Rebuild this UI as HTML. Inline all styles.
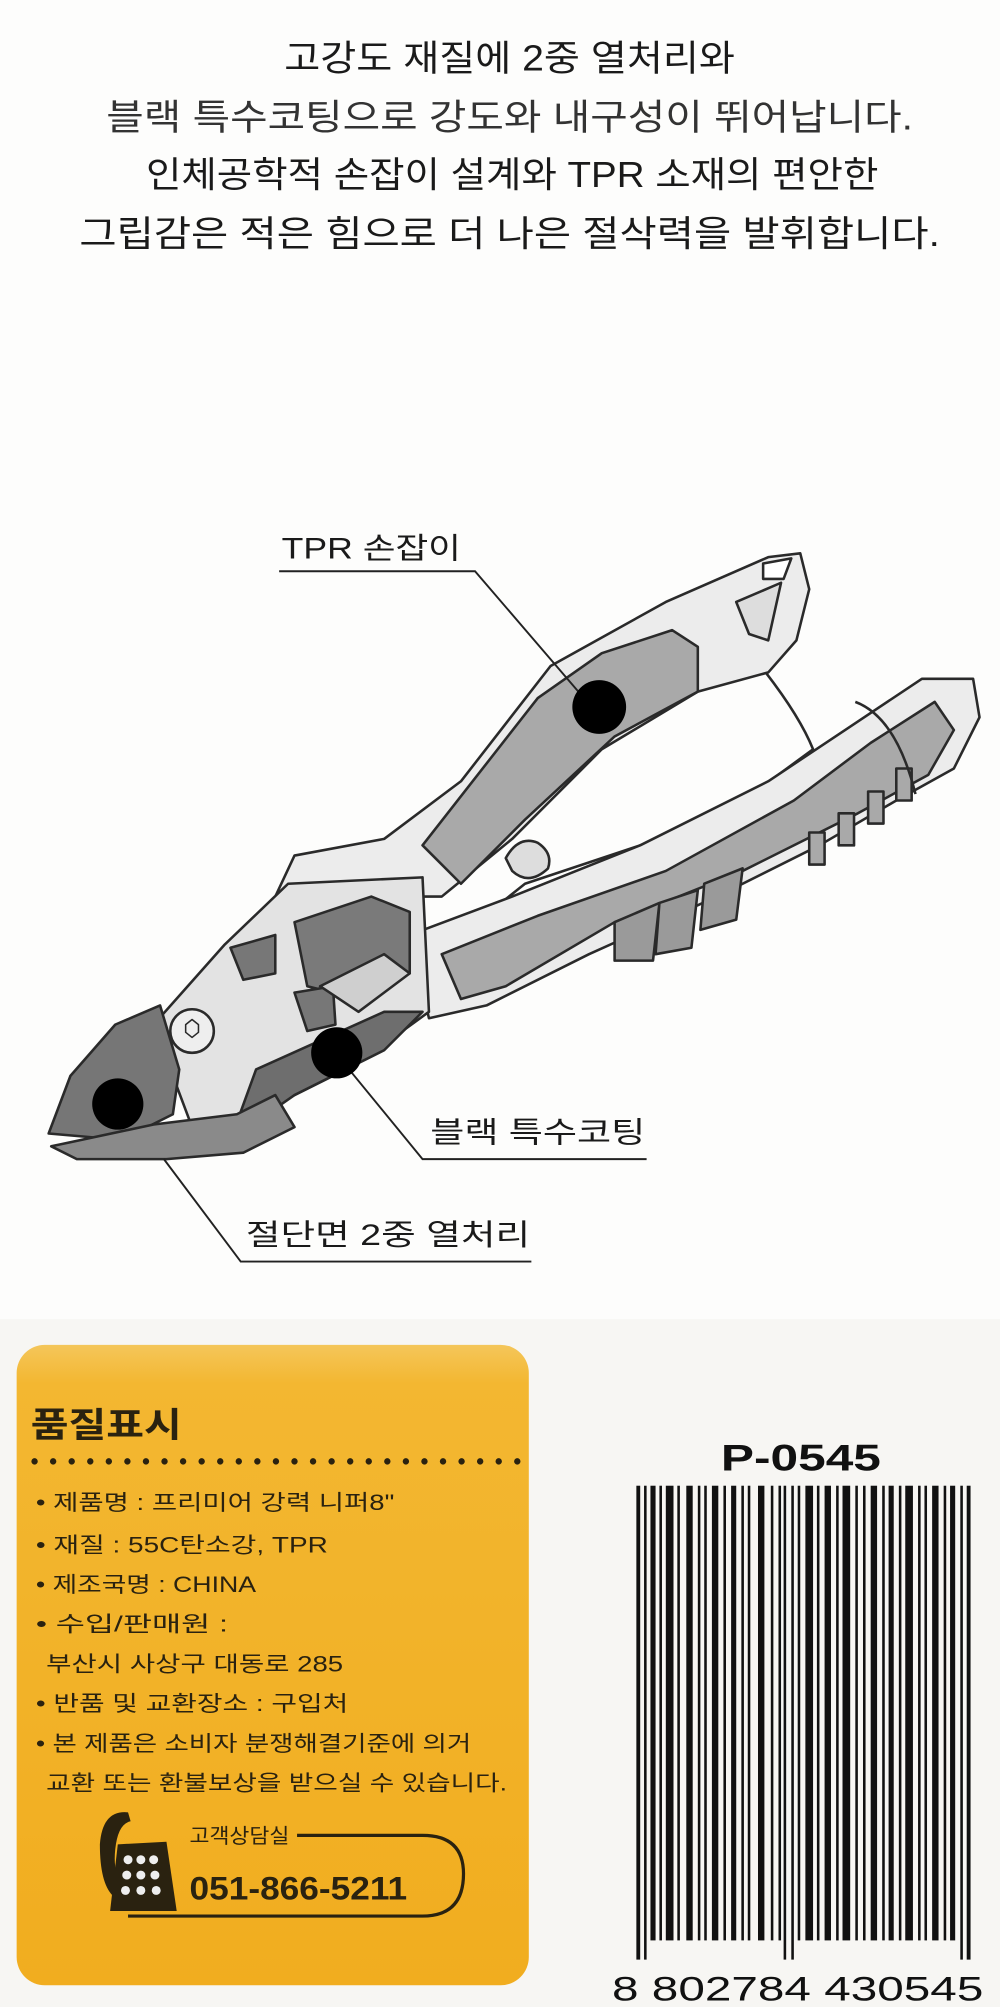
<!DOCTYPE html>
<html><head><meta charset="utf-8"><style>
html,body{margin:0;padding:0;background:#fdfdfc;}
svg{display:block;}
text{font-family:"Liberation Sans","Noto Sans CJK KR",sans-serif;}
</style></head><body>
<svg width="1000" height="2007" viewBox="0 0 781 1567" preserveAspectRatio="none" xmlns="http://www.w3.org/2000/svg">
<rect width="781" height="1567" fill="#fdfdfc"/>
<rect x="0" y="1030" width="781" height="537" fill="#f7f6f3"/>
<g fill="#1a1a1a" font-size="28" text-anchor="middle">
<text x="398" y="55" textLength="352" lengthAdjust="spacingAndGlyphs">고강도 재질에 2중 열처리와</text>
<text x="398" y="101" textLength="630" lengthAdjust="spacingAndGlyphs" fill="#333">블랙 특수코팅으로 강도와 내구성이 뛰어납니다.</text>
<text x="400" y="146" textLength="572" lengthAdjust="spacingAndGlyphs">인체공학적 손잡이 설계와 TPR 소재의 편안한</text>
<text x="398" y="192" textLength="672" lengthAdjust="spacingAndGlyphs">그립감은 적은 힘으로 더 나은 절삭력을 발휘합니다.</text>
</g>
<!-- pliers -->
<g stroke="#2a2a2a" stroke-width="2" stroke-linejoin="round">
<path d="M215 700 L230 668 L300 655 L360 610 L430 520 L520 470 L600 435 L625 432 L632 460 L622 500 L600 525 L545 540 L470 585 L400 655 L345 700 Z" fill="#ececec"/>
<path d="M330 660 L420 545 L470 510 L525 492 L545 505 L545 540 L480 575 L410 640 L360 690 Z" fill="#a9a9a9"/>
<path d="M575 470 L610 455 L600 500 L585 495 Z" fill="#ddd"/>
<path d="M596 440 L618 436 L612 452 L596 452 Z" fill="#fff"/>
<path d="M598 525 Q625 560 635 585 L560 640 L410 690 L360 730" fill="none" stroke-width="2"/>
<path d="M395 670 q10 -18 25 -12 q12 8 8 20 q-15 14 -28 2 z" fill="#ddd"/>
<path d="M320 730 L400 700 L500 660 L600 610 L660 570 L720 530 L760 530 L765 560 L745 600 L700 625 L640 660 L560 700 L460 745 L380 785 L335 795 Z" fill="#ececec"/>
<path d="M345 745 L420 715 L520 680 L620 625 L680 580 L730 548 L745 570 L725 605 L670 635 L580 680 L480 720 L395 770 L360 780 Z" fill="#a9a9a9"/>
<path d="M480 720 l35 -15 l-5 45 l-30 0 z M515 705 l30 -10 l-5 45 l-28 5 z M550 690 l30 -12 l-5 40 l-28 8 z" fill="#9a9a9a"/>
<path d="M632 650 h12 v25 h-12 z M655 635 h12 v25 h-12 z M678 618 h12 v25 h-12 z M700 600 h12 v25 h-12 z" fill="#a9a9a9"/>
<path d="M668 548 Q700 560 715 620" fill="none"/>
<path d="M120 800 L175 738 L225 690 L330 685 L335 790 L280 830 L210 865 L150 880 Z" fill="#e3e3e3"/>
<path d="M230 720 L290 700 L320 712 L320 760 L280 780 L240 770 Z" fill="#7a7a7a"/>
<path d="M180 740 L215 730 L215 760 L190 765 Z M230 775 L260 770 L262 800 L240 805 Z" fill="#777"/>
<path d="M250 770 L300 745 L320 760 L280 790 Z" fill="#cfcfcf"/>
<circle cx="150" cy="805" r="17" fill="#eee"/>
<path d="M145 800 l5 -4 l5 4 l0 6 l-5 4 l-5 -4 z" fill="none" stroke-width="1.2"/>
<path d="M200 835 L300 790 L330 790 L300 820 L230 855 L180 890 Z" fill="#6e6e6e"/>
<path d="M38 885 L55 840 L90 800 L125 785 L140 835 L135 870 L95 890 Z" fill="#767676"/>
<path d="M40 895 L120 878 L185 870 L215 855 L230 880 L190 900 L130 905 L60 905 Z" fill="#8a8a8a"/>
</g>
<g stroke="#222" stroke-width="1.5" fill="none">
<polyline points="218,446 371,446 462,552"/>
<polyline points="505,905 330,905 262,822"/>
<polyline points="415,985 188,985 128,905"/>
</g>
<g fill="#000">
<circle cx="468" cy="552" r="21"/>
<circle cx="263" cy="822" r="20"/>
<circle cx="92" cy="862" r="20"/>
</g>
<g fill="#1a1a1a" font-size="23">
<text x="220" y="436" textLength="140" lengthAdjust="spacingAndGlyphs">TPR 손잡이</text>
<text x="336" y="892" textLength="168" lengthAdjust="spacingAndGlyphs">블랙 특수코팅</text>
<text x="192" y="972" textLength="222" lengthAdjust="spacingAndGlyphs">절단면 2중 열처리</text>
</g>
<defs><linearGradient id="yg" x1="0" y1="0" x2="0" y2="1">
<stop offset="0" stop-color="#f4c65a"/><stop offset="0.06" stop-color="#f3b731"/><stop offset="1" stop-color="#f1ad1f"/></linearGradient></defs>
<rect x="13" y="1050" width="400" height="500" rx="22" fill="url(#yg)"/>
<text x="24" y="1122" font-size="27" font-weight="bold" fill="#2a2210" textLength="118" lengthAdjust="spacingAndGlyphs">품질표시</text>
<line x1="27" y1="1141" x2="405" y2="1141" stroke="#2a2210" stroke-width="5" stroke-dasharray="0 14.5" stroke-linecap="round"/>
<g fill="#2a2210" font-size="17">
<text x="28" y="1179" textLength="280" lengthAdjust="spacingAndGlyphs">• 제품명 : 프리미어 강력 니퍼8"</text>
<text x="28" y="1212" textLength="228" lengthAdjust="spacingAndGlyphs">• 재질 : 55C탄소강, TPR</text>
<text x="28" y="1243" textLength="172" lengthAdjust="spacingAndGlyphs">• 제조국명 : CHINA</text>
<text x="28" y="1274" textLength="150" lengthAdjust="spacingAndGlyphs">• 수입/판매원 :</text>
<text x="36" y="1305" textLength="232" lengthAdjust="spacingAndGlyphs">부산시 사상구 대동로 285</text>
<text x="28" y="1336" textLength="244" lengthAdjust="spacingAndGlyphs">• 반품 및 교환장소 : 구입처</text>
<text x="28" y="1367" textLength="340" lengthAdjust="spacingAndGlyphs">• 본 제품은 소비자 분쟁해결기준에 의거</text>
<text x="36" y="1398" textLength="360" lengthAdjust="spacingAndGlyphs">교환 또는 환불보상을 받으실 수 있습니다.</text>
</g>
<path d="M232 1433 L330 1433 Q362 1433 362 1463 Q362 1496 330 1496 L100 1496" fill="none" stroke="#2a2210" stroke-width="2.5"/>
<path d="M100 1415 q-20 -2 -22 25 q0 30 10 40 l8 -6 q-8 -12 -6 -30 q2 -20 12 -22 z" fill="#2a2210"/>
<path d="M92 1440 L130 1438 L138 1492 L86 1492 Z" fill="#2a2210"/>
<g fill="#eee"><circle cx="100" cy="1452" r="3.5"/><circle cx="110" cy="1452" r="3.5"/><circle cx="120" cy="1452" r="3.5"/>
<circle cx="99" cy="1464" r="3.5"/><circle cx="110" cy="1464" r="3.5"/><circle cx="121" cy="1464" r="3.5"/>
<circle cx="98" cy="1476" r="3.5"/><circle cx="110" cy="1476" r="3.5"/><circle cx="122" cy="1476" r="3.5"/></g>
<text x="148" y="1439" font-size="16" fill="#2a2210" textLength="78" lengthAdjust="spacingAndGlyphs">고객상담실</text>
<text x="148" y="1483" font-size="25" font-weight="bold" fill="#2a2210" textLength="170" lengthAdjust="spacingAndGlyphs">051-866-5211</text>
<text x="563" y="1148" font-size="29" font-weight="bold" fill="#111" textLength="125" lengthAdjust="spacingAndGlyphs">P-0545</text>
<g fill="#111">
<rect x="497" y="1160" width="3" height="370"/><rect x="503" y="1160" width="2" height="370"/>
<rect x="508" y="1160" width="4" height="355"/><rect x="515" y="1160" width="2" height="355"/>
<rect x="520" y="1160" width="6" height="355"/><rect x="529" y="1160" width="2" height="355"/>
<rect x="536" y="1160" width="5" height="355"/><rect x="545" y="1160" width="2" height="355"/>
<rect x="550" y="1160" width="2" height="355"/><rect x="556" y="1160" width="5" height="355"/>
<rect x="565" y="1160" width="2" height="355"/><rect x="571" y="1160" width="4" height="355"/>
<rect x="579" y="1160" width="2" height="355"/><rect x="584" y="1160" width="2" height="355"/>
<rect x="592" y="1160" width="5" height="355"/><rect x="602" y="1160" width="2" height="355"/>
<rect x="608" y="1160" width="2" height="355"/><rect x="612" y="1160" width="2" height="370"/>
<rect x="618" y="1160" width="2" height="370"/><rect x="623" y="1160" width="2" height="355"/>
<rect x="629" y="1160" width="6" height="355"/><rect x="638" y="1160" width="2" height="355"/>
<rect x="644" y="1160" width="5" height="355"/><rect x="653" y="1160" width="2" height="355"/>
<rect x="658" y="1160" width="6" height="355"/><rect x="668" y="1160" width="2" height="355"/>
<rect x="674" y="1160" width="2" height="355"/><rect x="680" y="1160" width="5" height="355"/>
<rect x="689" y="1160" width="2" height="355"/><rect x="694" y="1160" width="4" height="355"/>
<rect x="702" y="1160" width="2" height="355"/><rect x="707" y="1160" width="6" height="355"/>
<rect x="717" y="1160" width="2" height="355"/><rect x="722" y="1160" width="2" height="355"/>
<rect x="728" y="1160" width="5" height="355"/><rect x="737" y="1160" width="2" height="355"/>
<rect x="742" y="1160" width="4" height="355"/><rect x="750" y="1160" width="2" height="370"/>
<rect x="755" y="1160" width="3" height="370"/>
</g>
<text x="478" y="1562" font-size="27" fill="#111" textLength="290" lengthAdjust="spacingAndGlyphs">8 802784 430545</text>
</svg>
</body></html>
